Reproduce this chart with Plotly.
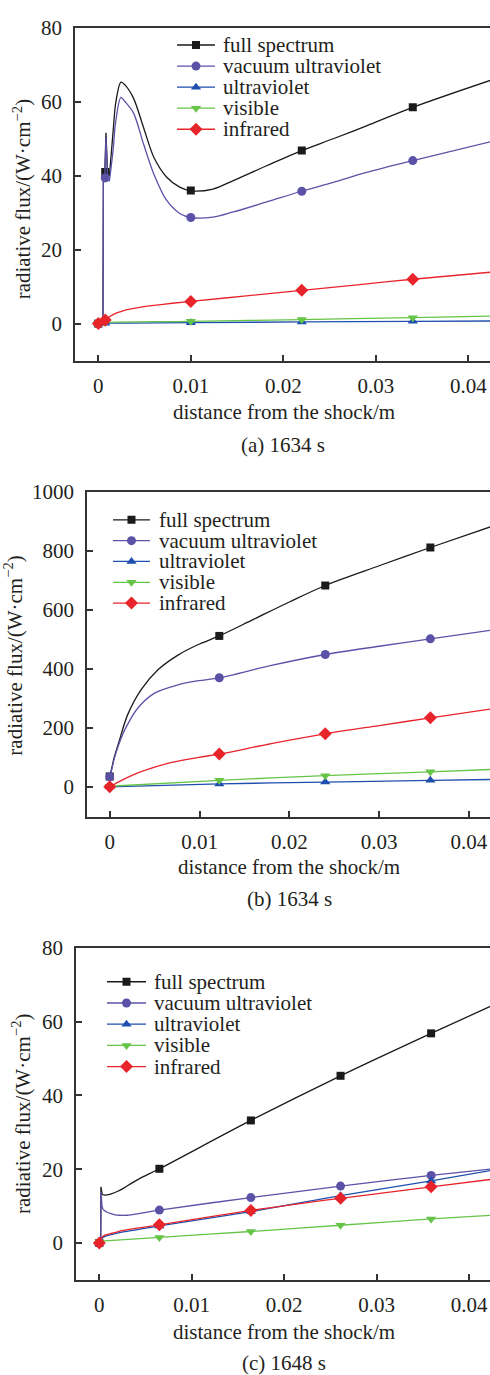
import plotly.graph_objects as go

FONT = "Liberation Serif"
W, H = 490, 1375

# ---------------- data ----------------
series_names = ["full spectrum", "vacuum ultraviolet", "ultraviolet", "visible", "infrared"]
series_colors = ["#1a1a1a", "#5b52a8", "#1f4fae", "#66c447", "#e8242b"]
series_symbols = ["square", "circle", "triangle-up", "triangle-down", "diamond"]
series_msizes = [8, 9, 9, 9, 10]

x_tick_vals = [0, 0.01, 0.02, 0.03, 0.04]
x_tick_text = ["0", "0.01", "0.02", "0.03", "0.04"]
y_ticks_a = [0, 20, 40, 60, 80]
y_ticks_b = [0, 200, 400, 600, 800, 1000]
y_ticks_c = [0, 20, 40, 60, 80]
captions = ["(a) 1634 s", "(b) 1634 s", "(c) 1648 s"]
x_title = "distance from the shock/m"
y_title = "radiative flux/(W·cm<sup>−2</sup>)"

# panel (a)
a_full_x = [0, 0.0005, 0.00055, 0.0007, 0.00083, 0.001, 0.0012, 0.0016, 0.0019, 0.00245, 0.0029, 0.0038,
            0.0049, 0.006, 0.0074, 0.0088, 0.01, 0.0124, 0.0146, 0.0182, 0.022, 0.0254, 0.029, 0.034, 0.0424]
a_full_y = [0, 0, 40, 41, 51.6, 40.5, 40, 52, 60, 65.3, 64.5, 61, 53, 45, 39.6, 36.9, 35.9, 36.4, 38.7,
            42.7, 46.8, 50, 53.5, 58.5, 65.8]
a_vuv_x = [0, 0.0005, 0.00055, 0.0007, 0.00083, 0.001, 0.0012, 0.0016, 0.0019, 0.00245, 0.0029, 0.0038,
           0.0049, 0.006, 0.0074, 0.0088, 0.01, 0.0124, 0.0146, 0.0182, 0.022, 0.0254, 0.029, 0.034, 0.0424]
a_vuv_y = [0, 0, 38.5, 39.3, 50.3, 39.5, 38.5, 47, 55, 61.2, 60, 57, 48.5, 40.5, 33.3, 29.8, 28.7, 28.8,
           30.2, 32.9, 35.8, 38.2, 40.9, 44.1, 49.2]
a_uv_x = [0, 0.0007, 0.01, 0.022, 0.034, 0.0424]
a_uv_y = [0, 0.1, 0.25, 0.45, 0.6, 0.7]
a_vis_x = [0, 0.0007, 0.01, 0.022, 0.034, 0.0424]
a_vis_y = [0, 0.3, 0.6, 1.1, 1.6, 2.0]
a_ir_x = [0, 0.0003, 0.0007, 0.001, 0.0015, 0.002, 0.0025, 0.003, 0.004, 0.006, 0.008, 0.01, 0.016,
          0.022, 0.028, 0.034, 0.0424]
a_ir_y = [0, 0.4, 1.0, 1.5, 2.3, 2.9, 3.3, 3.7, 4.2, 4.9, 5.5, 6.0, 7.5, 9.0, 10.5, 12.0, 13.9]
a_mark_x = [0, 0.00075, 0.01, 0.022, 0.034]
a_full_mark = [0, 41, 36, 46.8, 58.5]
a_vuv_mark = [0, 39.4, 28.7, 35.8, 44.1]
a_uv_mark = [0, 0.1, 0.25, 0.45, 0.6]
a_vis_mark = [0, 0.3, 0.6, 1.1, 1.6]
a_ir_mark = [0, 1.0, 6.0, 9.0, 12.0]

# panel (b)
b_full_x = [0, 0.0002, 0.0005, 0.001, 0.002, 0.0035, 0.0054, 0.0076, 0.0098, 0.0122, 0.016, 0.02, 0.024,
            0.03, 0.0357, 0.0424]
b_full_y = [35, 60, 100, 150, 245, 330, 398, 447, 482, 512, 568, 627, 683, 750, 812, 882]
b_vuv_x = [0, 0.0002, 0.0005, 0.001, 0.0017, 0.0032, 0.005, 0.0076, 0.0099, 0.0122, 0.018, 0.024, 0.03,
           0.0357, 0.0424]
b_vuv_y = [34, 55, 95, 143, 195, 270, 318, 346, 360, 370, 412, 449, 477, 502, 531]
b_uv_x = [0, 0.0122, 0.024, 0.0357, 0.0424]
b_uv_y = [0, 10, 16, 22, 25]
b_vis_x = [0, 0.0122, 0.024, 0.0357, 0.0424]
b_vis_y = [2, 22, 38, 51, 59]
b_ir_x = [0, 0.001, 0.002, 0.0032, 0.005, 0.0069, 0.0099, 0.0122, 0.018, 0.024, 0.03, 0.0357, 0.0424]
b_ir_y = [0, 17, 32, 48, 67, 83, 100, 111, 147, 180, 208, 234, 264]
b_mark_x = [0, 0.0122, 0.024, 0.0357]
b_full_mark = [35, 512, 683, 812]
b_vuv_mark = [34, 370, 449, 502]
b_uv_mark = [0, 10, 16, 22]
b_vis_mark = [2, 22, 38, 51]
b_ir_mark = [0, 111, 180, 234]

# panel (c)
c_full_x = [0, 0.00015, 0.00018, 0.0003, 0.00043, 0.0008, 0.0013, 0.002, 0.0026, 0.0035, 0.0044, 0.0065,
            0.0164, 0.0261, 0.0359, 0.0423]
c_full_y = [0, 0, 15.2, 13.3, 13.0, 13.0, 13.3, 14.0, 14.8, 16.2, 17.5, 20.1, 33.2, 45.3, 56.8, 64.1]
c_vuv_x = [0, 0.00015, 0.00018, 0.0003, 0.00043, 0.0008, 0.0012, 0.0016, 0.0022, 0.003, 0.0044, 0.0065,
           0.0164, 0.0261, 0.0359, 0.0423]
c_vuv_y = [0, 0, 13.9, 9.8, 9.0, 8.4, 8.0, 7.7, 7.5, 7.5, 8.0, 8.9, 12.3, 15.4, 18.3, 20.0]
c_uv_x = [0, 0.00015, 0.0003, 0.0006, 0.0015, 0.0026, 0.0065, 0.0164, 0.0261, 0.0359, 0.0423]
c_uv_y = [0, 0.5, 1.3, 1.8, 2.4, 3.0, 4.6, 8.5, 12.8, 16.8, 19.6]
c_vis_x = [0, 0.0002, 0.0065, 0.0164, 0.0261, 0.0359, 0.0423]
c_vis_y = [0.3, 0.5, 1.5, 3.1, 4.8, 6.5, 7.5]
c_ir_x = [0, 0.00015, 0.0003, 0.0006, 0.0015, 0.0026, 0.0065, 0.0164, 0.0261, 0.0359, 0.0423]
c_ir_y = [0, 0.8, 1.6, 2.1, 2.7, 3.4, 4.9, 8.8, 12.1, 15.2, 17.2]
c_mark_x = [0, 0.0065, 0.0164, 0.0261, 0.0359]
c_full_mark = [0, 20.1, 33.2, 45.3, 56.8]
c_vuv_mark = [0, 8.9, 12.3, 15.4, 18.3]
c_uv_mark = [0, 4.6, 8.5, 12.8, 16.8]
c_vis_mark = [0.3, 1.5, 3.1, 4.8, 6.5]
c_ir_mark = [0, 4.9, 8.8, 12.1, 15.2]

panel_lines = [
    [(a_full_x, a_full_y), (a_vuv_x, a_vuv_y), (a_uv_x, a_uv_y), (a_vis_x, a_vis_y), (a_ir_x, a_ir_y)],
    [(b_full_x, b_full_y), (b_vuv_x, b_vuv_y), (b_uv_x, b_uv_y), (b_vis_x, b_vis_y), (b_ir_x, b_ir_y)],
    [(c_full_x, c_full_y), (c_vuv_x, c_vuv_y), (c_uv_x, c_uv_y), (c_vis_x, c_vis_y), (c_ir_x, c_ir_y)],
]
panel_marks = [
    (a_mark_x, [a_full_mark, a_vuv_mark, a_uv_mark, a_vis_mark, a_ir_mark]),
    (b_mark_x, [b_full_mark, b_vuv_mark, b_uv_mark, b_vis_mark, b_ir_mark]),
    (c_mark_x, [c_full_mark, c_vuv_mark, c_uv_mark, c_vis_mark, c_ir_mark]),
]
panel_yticks = [y_ticks_a, y_ticks_b, y_ticks_c]

# style: number of leading points drawn straight (sharp jumps) before smooth spline part
straight_until = [
    [6, 6, 0, 0, 2],
    [0, 0, 0, 0, 0],
    [4, 4, 2, 1, 2],
]

# ---------------- layout geometry (pixels) ----------------
geom = [
    dict(left=75, top=16, bottom=352, xr=[-0.00252, 0.04235], yr=[-10.1, 80],
         ytitle=(22, 189), xtitle=(283.5, 404), caption=(283, 437),
         leg_line=(177, 215), leg_text=221, leg_row0=33.3, leg_dy=21.25),
    dict(left=87, top=484.3, bottom=811.7, xr=[-0.00253, 0.04234], yr=[-101, 1000],
         ytitle=(13.3, 649), xtitle=(289, 863), caption=(289, 895),
         leg_line=(113, 150), leg_text=157, leg_row0=512.3, leg_dy=21),
    dict(left=76, top=944, bottom=1279, xr=[-0.00252, 0.04227], yr=[-10, 80],
         ytitle=(21.7, 1112), xtitle=(284, 1332), caption=(284, 1363),
         leg_line=(107, 146), leg_text=152, leg_row0=978.3, leg_dy=21.4),
]

def px(x):
    return x / W

def py(y):
    return 1 - y / H

AX = "#333333"
TXT = "#231f20"
axis_common = dict(showline=True, linecolor=AX, linewidth=1.5, ticks="inside", ticklen=6,
                   tickwidth=1.5, tickcolor=AX, showgrid=False, zeroline=False,
                   tickfont=dict(family=FONT, size=21, color=TXT))

fig = go.Figure()
layout = dict(width=W, height=H, margin=dict(l=0, r=0, t=0, b=0),
              paper_bgcolor="white", plot_bgcolor="white", showlegend=False)
annotations = []

for p in range(3):
    g = geom[p]
    n = p + 1
    xa = "x" if n == 1 else f"x{n}"
    ya = "y" if n == 1 else f"y{n}"
    lx = f"x{n + 3}"
    ly = f"y{n + 3}"
    layout["xaxis" if n == 1 else f"xaxis{n}"] = dict(
        axis_common, domain=[px(g["left"]), 1], range=g["xr"], anchor=ya,
        tickvals=x_tick_vals, ticktext=x_tick_text, mirror=True, ticklabelstandoff=5)
    layout["yaxis" if n == 1 else f"yaxis{n}"] = dict(
        axis_common, domain=[py(g["bottom"]), py(g["top"])], range=g["yr"], anchor=xa,
        tickvals=panel_yticks[p], ticklabelstandoff=7)
    r0, dy = g["leg_row0"], g["leg_dy"]
    layout[f"xaxis{n + 3}"] = dict(domain=[px(g["leg_line"][0]), px(g["leg_line"][1])], range=[0, 1],
                                   visible=False, anchor=ly)
    layout[f"yaxis{n + 3}"] = dict(domain=[py(r0 + 4.5 * dy), py(r0 - 0.5 * dy)], range=[4.5, -0.5],
                                   visible=False, anchor=lx)

    mx, mys = panel_marks[p]
    for i in range(5):
        lxs, lys = panel_lines[p][i]
        k = straight_until[p][i]
        if k > 0:
            fig.add_trace(go.Scatter(x=lxs[:k + 1], y=lys[:k + 1], mode="lines", xaxis=xa, yaxis=ya,
                                     line=dict(color=series_colors[i], width=1.3), hoverinfo="skip"))
        fig.add_trace(go.Scatter(x=lxs[k:], y=lys[k:], mode="lines", xaxis=xa, yaxis=ya,
                                 line=dict(color=series_colors[i], width=1.3, shape="spline",
                                           smoothing=0.9),
                                 hoverinfo="skip"))
        fig.add_trace(go.Scatter(x=mx, y=mys[i], mode="markers", xaxis=xa, yaxis=ya,
                                 marker=dict(symbol=series_symbols[i], size=series_msizes[i],
                                             color=series_colors[i], line=dict(width=0)),
                                 name=series_names[i]))
        fig.add_trace(go.Scatter(x=[0, 1], y=[i, i], mode="lines", xaxis=lx, yaxis=ly,
                                 line=dict(color=series_colors[i], width=1.3), hoverinfo="skip"))
        fig.add_trace(go.Scatter(x=[0.5], y=[i], mode="markers", xaxis=lx, yaxis=ly,
                                 marker=dict(symbol=series_symbols[i], size=series_msizes[i],
                                             color=series_colors[i], line=dict(width=0)),
                                 hoverinfo="skip"))
        annotations.append(dict(text=series_names[i], xref="paper", yref="paper",
                                x=px(g["leg_text"]), y=py(r0 + i * dy), xanchor="left", yanchor="middle",
                                showarrow=False, font=dict(family=FONT, size=21, color=TXT)))
    annotations.append(dict(text=y_title, xref="paper", yref="paper", x=px(g["ytitle"][0]),
                            y=py(g["ytitle"][1]), xanchor="center", yanchor="middle", textangle=-90,
                            showarrow=False, font=dict(family=FONT, size=21, color=TXT)))
    annotations.append(dict(text=x_title, xref="paper", yref="paper", x=px(g["xtitle"][0]),
                            y=py(g["xtitle"][1]), xanchor="center", yanchor="middle",
                            showarrow=False, font=dict(family=FONT, size=21, color=TXT)))
    annotations.append(dict(text=captions[p], xref="paper", yref="paper", x=px(g["caption"][0]),
                            y=py(g["caption"][1]), xanchor="center", yanchor="middle",
                            showarrow=False, font=dict(family=FONT, size=21, color=TXT)))

layout["annotations"] = annotations
fig.update_layout(**layout)
fig.write_html("out.html")
